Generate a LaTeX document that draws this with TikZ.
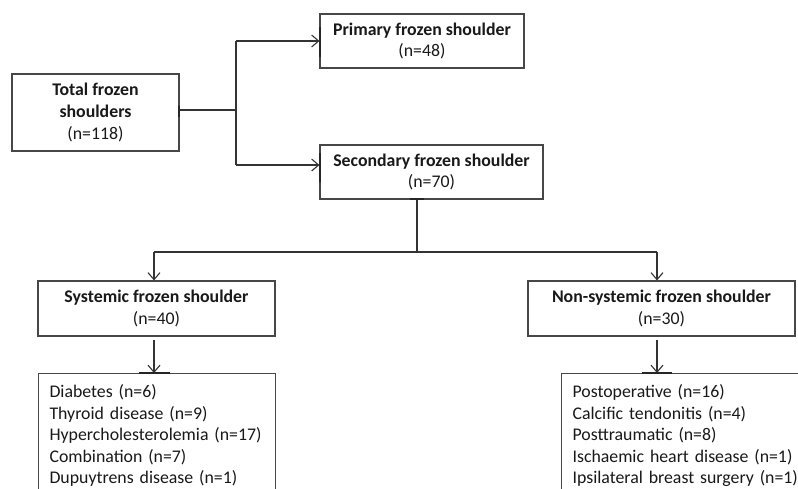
\documentclass[tikz,border=0pt]{standalone}
\usepackage{fontspec}
\setmainfont{Carlito}
\usetikzlibrary{arrows.meta}
\begin{document}
\begin{tikzpicture}[x=1pt,y=-1pt,
  box/.style={draw=black!72,line width=1.1pt,align=center,inner sep=0pt,font=\fontsize{17.8}{21.7}\selectfont,text=black!90},
  listbox/.style={draw=black!72,line width=1.1pt,align=left,anchor=north west,inner xsep=11pt,inner ysep=0pt,font=\fontsize{17.8}{21.6}\selectfont,text=black!90},
  conn/.style={draw=black!80,line width=1.2pt},
  arr/.style={conn,-{Straight Barb[length=7pt,width=12pt,line width=1.1pt]}},
  tick/.style={draw=black!85,line width=2.4pt}]
\useasboundingbox (0,0) rectangle (798,488);
\clip (0,0) rectangle (798,488);
\fill[white] (0,0) rectangle (798,488);
\node[box,minimum width=167pt,minimum height=77pt] (total) at (95.5,112.5) {\textbf{Total frozen}\\\textbf{shoulders}\\(n=118)};
\node[box,minimum width=204pt,minimum height=54pt] (primary) at (422,41) {\textbf{Primary frozen shoulder}\\(n=48)};
\node[box,minimum width=223pt,minimum height=54pt] (secondary) at (431.5,172) {\textbf{Secondary frozen shoulder}\\(n=70)};
\node[box,minimum width=237pt,minimum height=55pt] (systemic) at (156.5,308.5) {\textbf{Systemic frozen shoulder}\\(n=40)};
\node[box,minimum width=267pt,minimum height=55pt] (nonsys) at (661.5,308.5) {\textbf{Non-systemic frozen shoulder}\\(n=30)};
\node[listbox,minimum width=237pt,text width=215pt] (syslist) at (38,373) {\rule{0pt}{24pt}Diabetes (n=6)\\Thyroid disease (n=9)\\Hypercholesterolemia (n=17)\\Combination (n=7)\\Dupuytrens disease (n=1)\\~\\~};
\node[listbox,minimum width=260pt,text width=238pt] (nonlist) at (561,373) {\rule{0pt}{24pt}Postoperative (n=16)\\Calcific tendonitis (n=4)\\Posttraumatic (n=8)\\Ischaemic heart disease (n=1)\\Ipsilateral breast surgery (n=1)\\~\\~};
% branching from total
\coordinate (b1) at (236,110);
\coordinate (b1t) at (236,41);
\coordinate (b1b) at (236,165);
\draw[conn] (total.east |- b1) -- (b1);
\draw[conn] (b1t) -- (b1b);
\draw[arr] (b1t) -- (primary.west |- b1t);
\draw[arr] (b1b) -- (secondary.west |- b1b);
% branching from secondary
\coordinate (b2) at (417,252);
\coordinate (b2l) at (154,252);
\coordinate (b2r) at (657,252);
\draw[conn] (secondary.south -| b2) -- (b2);
\draw[conn] (b2l) -- (b2r);
\draw[arr] (b2l) -- (systemic.north -| b2l);
\draw[arr] (b2r) -- (nonsys.north -| b2r);
% down to lists
\coordinate (s1) at (154,340);
\coordinate (s2) at (657,340);
\draw[arr] (s1) -- (syslist.north -| s1);
\draw[arr] (s2) -- (nonlist.north -| s2);
% small dark marks where connectors meet boxes
\draw[tick] (179,106) -- (179,117);
\draw[tick] (320,27) -- (320,57);
\draw[tick] (320,153) -- (320,182);
\draw[tick] (410,199) -- (424,199);
\draw[tick] (139,373) -- (170,373);
\draw[tick] (642,373) -- (672,373);
\end{tikzpicture}
\end{document}
